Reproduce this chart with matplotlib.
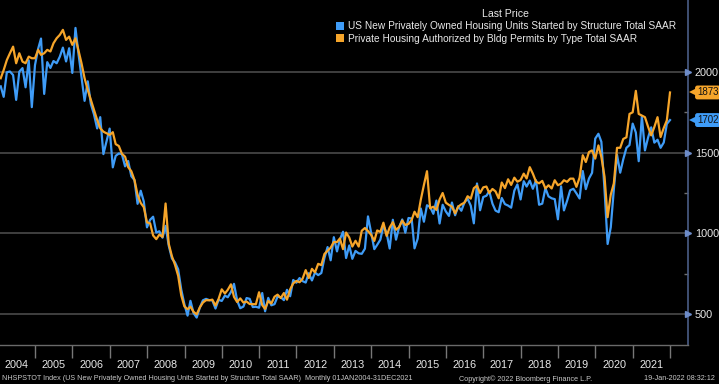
import matplotlib
matplotlib.use("Agg")
import matplotlib.pyplot as plt
from matplotlib.patches import Patch
from matplotlib.transforms import offset_copy
import pandas as pd

# ---------------- data ----------------
start_month = "2004-01-31"
starts = [
    1911, 1846, 1998, 2003, 1981, 1827, 2002, 2024, 1905, 2072, 1782, 2042,
    2144, 2207, 1864, 2061, 2025, 2068, 2054, 2095, 2151, 2065, 2147, 1994,
    2273, 2119, 1969, 1821, 1942, 1802, 1737, 1650, 1720, 1491, 1570, 1649,
    1409, 1480, 1495, 1490, 1415, 1448, 1354, 1330, 1183, 1264, 1197, 1037,
    1084, 1103, 1005, 1013, 973, 1046, 923, 844, 820, 777, 652, 560,
    490, 582, 505, 478, 540, 585, 594, 586, 585, 534, 588, 581,
    614, 604, 636, 687, 583, 536, 546, 599, 594, 543, 545, 539,
    630, 517, 600, 554, 561, 608, 604, 586, 650, 610, 711, 694,
    723, 704, 695, 753, 708, 757, 741, 754, 847, 915, 833, 976,
    888, 962, 1010, 847, 925, 842, 891, 876, 873, 905, 1105, 1003,
    902, 929, 961, 1047, 1002, 906, 1084, 961, 1037, 1086, 1004, 1095,
    1092, 907, 967, 1154, 1072, 1174, 1163, 1121, 1203, 1061, 1177, 1136,
    1108, 1191, 1112, 1168, 1140, 1191, 1215, 1171, 1062, 1309, 1143, 1225,
    1233, 1261, 1184, 1141, 1131, 1219, 1181, 1172, 1159, 1265, 1303, 1210,
    1323, 1290, 1327, 1276, 1329, 1177, 1184, 1280, 1229, 1217, 1212, 1087,
    1291, 1142, 1202, 1267, 1276, 1248, 1216, 1386, 1274, 1340, 1375, 1587,
    1617, 1567, 1269, 934, 1038, 1273, 1487, 1376, 1459, 1530, 1547, 1680,
    1625, 1447, 1725, 1514, 1594, 1657, 1562, 1580, 1530, 1563, 1678, 1702,
]
permits = [
    1961, 2012, 2074, 2116, 2157, 2054, 2116, 2064, 2054, 2095, 2085, 2085,
    2137, 2106, 2116, 2137, 2127, 2178, 2209, 2230, 2261, 2199, 2219, 2168,
    2209, 2137, 2054, 1961, 1889, 1827, 1765, 1703, 1651, 1630, 1620, 1610,
    1627, 1553, 1541, 1493, 1475, 1410, 1385, 1330, 1239, 1188, 1162, 1068,
    1062, 987, 964, 992, 978, 1185, 935, 858, 805, 737, 616, 547,
    530, 545, 513, 498, 541, 571, 586, 585, 589, 553, 593, 653,
    627, 650, 684, 606, 574, 597, 571, 577, 562, 561, 561, 635,
    555, 532, 581, 565, 607, 620, 599, 630, 589, 653, 690, 705,
    697, 718, 772, 723, 780, 758, 811, 803, 872, 892, 911, 946,
    946, 968, 902, 1005, 974, 918, 954, 918, 1016, 1033, 1014, 991,
    953, 1018, 1009, 1066, 984, 1036, 1069, 1022, 1038, 1079, 1052, 1058,
    1083, 1134, 1100, 1207, 1300, 1385, 1155, 1165, 1145, 1210, 1250, 1190,
    1176, 1165, 1124, 1165, 1180, 1190, 1230, 1215, 1280, 1295, 1250, 1285,
    1290, 1250, 1275, 1260, 1217, 1315, 1280, 1335, 1300, 1345, 1320, 1330,
    1370, 1340, 1410, 1370, 1320, 1310, 1325, 1278, 1298, 1278, 1329, 1298,
    1308, 1329, 1319, 1339, 1339, 1288, 1345, 1484, 1442, 1504, 1514, 1463,
    1545, 1473, 1350, 1100, 1240, 1310, 1530, 1530, 1585, 1595, 1740, 1750,
    1883, 1740, 1730, 1720, 1660, 1607, 1659, 1720, 1597, 1653, 1700, 1873,
]
series_labels = [
    "US New Privately Owned Housing Units Started by Structure Total SAAR",
    "Private Housing Authorized by Bldg Permits by Type Total SAAR",
]
legend_title = "Last Price"
y_ticks = [500, 1000, 1500, 2000]
y_minor = [750, 1250, 1750]
years = list(range(2004, 2022))
footer_left = ("NHSPSTOT Index (US New Privately Owned Housing Units Started by "
               "Structure Total SAAR)  Monthly 01JAN2004-31DEC2021")
footer_mid = "Copyright\u00a9 2022 Bloomberg Finance L.P."
footer_right = "19-Jan-2022 08:32:12"

# ---------------- style ----------------
BLUE = "#3f9cf7"
ORANGE = "#f6a52a"
BG = "#000000"
TXT = "#e8e8e8"
plt.rcParams["font.family"] = ["Liberation Sans", "DejaVu Sans"]

W, H = 719, 384
fig = plt.figure(figsize=(W / 100, H / 100), dpi=100, facecolor=BG)
ax = fig.add_axes([0, 39 / H, 688 / W, 345 / H])
ax.set_facecolor(BG)

dates = pd.date_range(start_month, periods=len(starts), freq="ME")
ax.plot(dates, starts, color=BLUE, lw=1.6, zorder=3, solid_joinstyle="round")
ax.plot(dates, permits, color=ORANGE, lw=1.6, zorder=4, solid_joinstyle="round")

ax.set_ylim(308, 2446)
ax.set_xlim(pd.Timestamp("2004-01-24"), pd.Timestamp("2022-06-25"))

# spines
for s in ["left", "top"]:
    ax.spines[s].set_visible(False)
ax.spines["right"].set_color("#4a5d86")
ax.spines["right"].set_linewidth(1.2)
ax.spines["bottom"].set_color("#6a6a6a")
ax.spines["bottom"].set_linewidth(1.0)

# y axis
ax.yaxis.tick_right()
ax.set_yticks(y_ticks)
ax.set_yticks(y_minor, minor=True)
ax.tick_params(axis="y", which="major", length=0, pad=5, labelsize=7.8,
               labelcolor=TXT)
ax.tick_params(axis="y", which="minor", length=3, direction="in",
               color="#707070", width=1)
ax.grid(axis="y", which="major", color="#505050", lw=1.1, zorder=1)
ax.plot([1] * len(y_ticks), y_ticks, ls="none", marker=">", ms=4.5,
        color="#6d8cc9", transform=ax.get_yaxis_transform(), clip_on=False,
        zorder=6)

# x axis: separators at year boundaries, labels at mid-year
ax.set_xticks([pd.Timestamp(f"{y + 1}-01-01") for y in years])
ax.set_xticklabels([])
ax.set_xticks([pd.Timestamp(f"{y}-07-02") for y in years], minor=True)
ax.set_xticklabels([str(y) for y in years], minor=True)
ax.tick_params(axis="x", which="major", length=9, width=1, color="#777777",
               direction="out")
ax.tick_params(axis="x", which="minor", length=0, pad=11, labelsize=7.8,
               labelcolor=TXT)

# last-price tags
tri_tr = offset_copy(ax.get_yaxis_transform(), fig=fig, x=5, y=0, units="dots")
for val, col in [(starts[-1], BLUE), (permits[-1], ORANGE)]:
    ax.annotate(f"{val:d}", xy=(1, val), xycoords=ax.get_yaxis_transform(),
                xytext=(9, 0), textcoords="offset pixels", ha="left",
                va="center", fontsize=7, color="#111111",
                bbox=dict(boxstyle="round,pad=0.2,rounding_size=0.25",
                          fc=col, ec="none"),
                annotation_clip=False, zorder=7)
    ax.plot([1], [val], marker="<", ms=6, color=col, ls="none",
            transform=tri_tr, clip_on=False, zorder=7, markeredgewidth=0)

# legend
handles = [Patch(facecolor=BLUE, edgecolor="none"),
           Patch(facecolor=ORANGE, edgecolor="none")]
leg = ax.legend(handles, series_labels, title=legend_title, loc="upper right",
                bbox_to_anchor=(682 / 688, 0.992), frameon=True, fontsize=7.3,
                title_fontsize=7.6, handlelength=0.85, handleheight=0.85,
                handletextpad=0.35, labelspacing=0.25, borderpad=0.6,
                borderaxespad=0)
leg.get_frame().set_facecolor(BG)
leg.get_frame().set_edgecolor(BG)
leg.get_title().set_color(TXT)
for t in leg.get_texts():
    t.set_color(TXT)
leg.set_zorder(10)

# footer
fig.text(2 / W, 5 / H, footer_left, fontsize=5.2, color="#c8c8c8",
         ha="left", va="center")
fig.text(526 / W, 5 / H, footer_mid, fontsize=5.2, color="#c8c8c8",
         ha="center", va="center")
fig.text(715 / W, 5 / H, footer_right, fontsize=5.2, color="#c8c8c8",
         ha="right", va="center")

fig.savefig("out.png", dpi=100, facecolor=BG)
